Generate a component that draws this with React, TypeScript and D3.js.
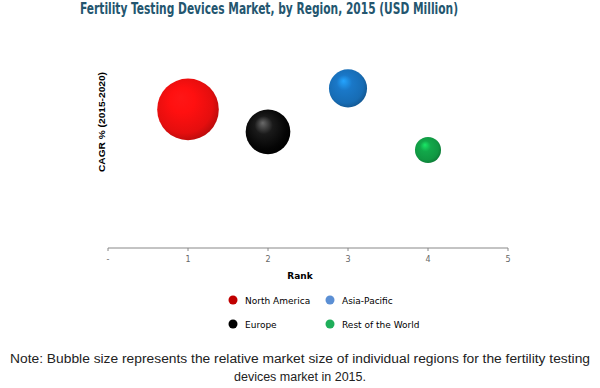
import React from "react";
import * as d3 from "d3";

const regions = ["North America", "Europe", "Asia-Pacific", "Rest of the World"];
const ranks = [1, 2, 3, 4];
const cagr = [9.9, 8.3, 11.4, 7.0];
const marketSize = [380, 200, 145, 68];
const sphereColors = ["#ff1010", "#111111", "#1a78c8", "#12a84a"];
const legendColors = ["#c00000", "#000000", "#5b8fd4", "#1fae5a"];
const xTicks = [0, 1, 2, 3, 4, 5];
const xTickLabels = ["-", "1", "2", "3", "4", "5"];

const W = 600;
const H = 388;

export default function App() {
  const x = d3.scaleLinear().domain([0, 5]).range([108, 508]);
  const y = d3.scaleLinear().domain([0, 14]).range([248, 52]);
  const r = d3.scaleSqrt().domain([0, 400]).range([0, 31.6]);
  const axisY = y(0);

  const lighten = (c: string, k: number) => d3.color(c)!.brighter(k).formatHex();
  const darken = (c: string, k: number) => d3.color(c)!.darker(k).formatHex();

  return (
    <svg width={W} height={H} style={{ position: "absolute", left: 0, top: 0, background: "#fff" }}>
      <defs>
        {sphereColors.map((c, i) => (
          <radialGradient key={i} id={`sph${i}`} cx="45%" cy="45%" r="58%" fx="38%" fy="30%">
            <stop offset="0%" stopColor={i === 1 ? "#6a6a6a" : lighten(c, 0.9)} />
            <stop offset="35%" stopColor={i === 1 ? "#1a1a1a" : c} />
            <stop offset="80%" stopColor={i === 1 ? "#050505" : darken(c, 0.3)} />
            <stop offset="100%" stopColor={i === 1 ? "#000" : darken(c, 0.9)} />
          </radialGradient>
        ))}
      </defs>
      <text
        x={269}
        y={14}
        textAnchor="middle"
        fontFamily="'Liberation Sans Narrow', 'DejaVu Sans Condensed', Arial, sans-serif"
        fontWeight="bold"
        fontSize={15}
        fill="#24566f"
        textLength={378}
        lengthAdjust="spacingAndGlyphs"
      >
        Fertility Testing Devices Market, by Region, 2015 (USD Million)
      </text>

      <text
        transform={`translate(105,122) rotate(-90)`}
        textAnchor="middle"
        fontFamily="Arial, 'Liberation Sans', sans-serif"
        fontWeight="bold"
        fontSize={8.5}
        fill="#000"
        textLength={100}
        lengthAdjust="spacingAndGlyphs"
      >
        CAGR % (2015-2020)
      </text>

      <line x1={x(0)} x2={x(5)} y1={axisY} y2={axisY} stroke="#888" strokeWidth={1} />
      {xTicks.map((t, i) => (
        <g key={t}>
          <line x1={x(t)} x2={x(t)} y1={axisY} y2={axisY + 3} stroke="#888" />
          <text
            x={x(t)}
            y={axisY + 14}
            textAnchor="middle"
            fontFamily="'DejaVu Sans', Verdana, sans-serif"
            fontSize={8}
            fill="#666"
          >
            {xTickLabels[i]}
          </text>
        </g>
      ))}
      <text
        x={x(2.4)}
        y={279}
        textAnchor="middle"
        fontFamily="'DejaVu Sans', Verdana, sans-serif"
        fontWeight="bold"
        fontSize={9}
        fill="#000"
      >
        Rank
      </text>

      {regions.map((name, i) => (
        <circle key={name} cx={x(ranks[i])} cy={y(cagr[i])} r={r(marketSize[i])} fill={`url(#sph${i})`} />
      ))}

      {regions.map((name, i) => {
        const col = i === 0 || i === 1 ? 0 : 1;
        const row = i === 0 || i === 2 ? 0 : 1;
        const lx = col === 0 ? 233 : 330;
        const ly = row === 0 ? 300 : 324;
        return (
          <g key={name}>
            <circle cx={lx} cy={ly} r={4.5} fill={legendColors[i]} />
            <text
              x={lx + 12}
              y={ly + 3.5}
              fontFamily="'DejaVu Sans', Verdana, sans-serif"
              fontSize={9}
              fill="#000"
            >
              {name}
            </text>
          </g>
        );
      })}

      <text
        x={300}
        y={363}
        textAnchor="middle"
        fontFamily="'Liberation Sans Narrow', Arial, sans-serif"
        fontSize={12.5}
        fill="#222"
        textLength={580}
        lengthAdjust="spacingAndGlyphs"
      >
        Note: Bubble size represents the relative market size of individual regions for the fertility testing
      </text>
      <text
        x={300}
        y={381}
        textAnchor="middle"
        fontFamily="'Liberation Sans Narrow', Arial, sans-serif"
        fontSize={12.5}
        fill="#222"
      >
        devices market in 2015.
      </text>
    </svg>
  );
}
